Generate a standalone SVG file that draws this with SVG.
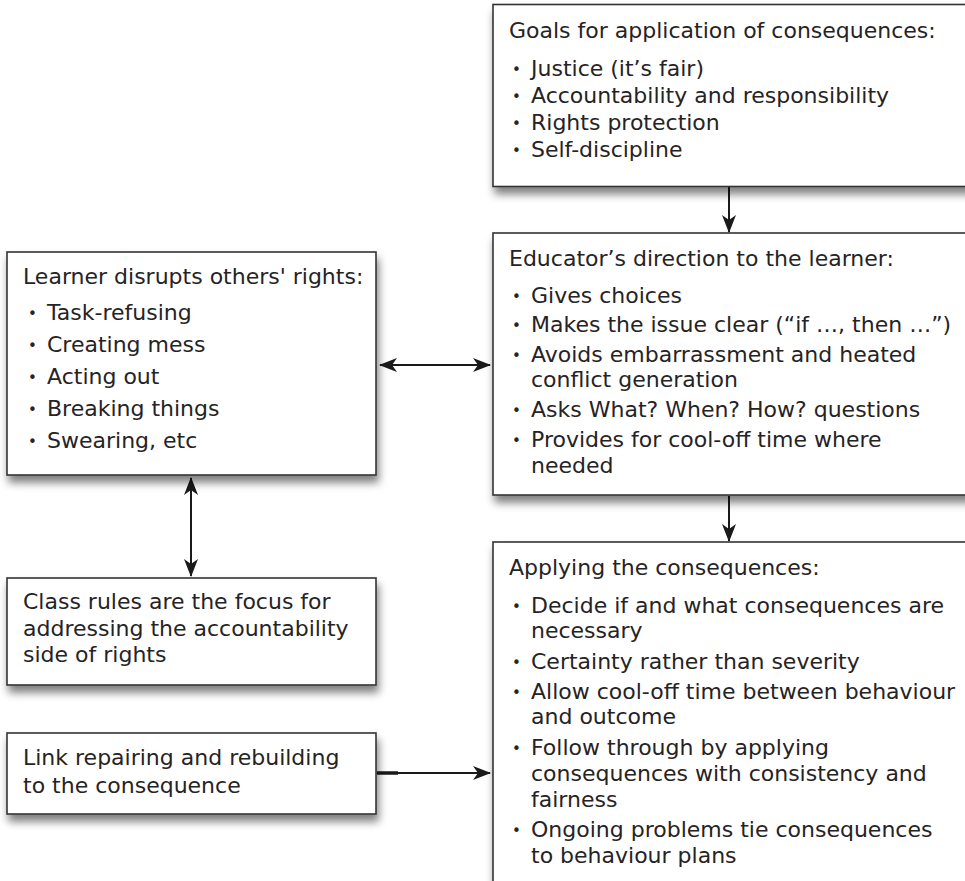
<svg xmlns="http://www.w3.org/2000/svg" width="965" height="881" viewBox="0 0 965 881">
  <defs>
    <filter id="shadow" x="-10%" y="-10%" width="130%" height="140%">
      <feGaussianBlur in="SourceAlpha" stdDeviation="4"/>
      <feOffset dx="2" dy="7" result="blur"/>
      <feComponentTransfer><feFuncA type="linear" slope="0.5"/></feComponentTransfer>
      <feMerge><feMergeNode/><feMergeNode in="SourceGraphic"/></feMerge>
    </filter>
    <marker id="head" viewBox="0 0 18 14" refX="17" refY="7" markerWidth="18" markerHeight="14" markerUnits="userSpaceOnUse" orient="auto-start-reverse">
      <path d="M18,7 L0,0 L5,7 L0,14 Z" fill="#1a1a1a"/>
    </marker>
  </defs>
  <style>
    .box { fill: #ffffff; stroke: #333333; stroke-width: 1.6; }
    .txt { font-family: "DejaVu Sans", "Liberation Sans", sans-serif; font-size: 22px; fill: #262324; }
    .bul { font-size: 15px; }
    .link { fill: none; stroke: #1a1a1a; stroke-width: 2; }
  </style>
  <rect width="965" height="881" fill="#ffffff"/>

  <!-- connectors -->
  <g id="connectors">
    <line class="link" x1="729" y1="187" x2="729" y2="232" marker-end="url(#head)"/>
    <line class="link" x1="729" y1="496" x2="729" y2="541" marker-end="url(#head)"/>
    <line class="link" x1="380" y1="365" x2="490" y2="365" marker-start="url(#head)" marker-end="url(#head)"/>
    <line class="link" x1="191" y1="478" x2="191" y2="576" marker-start="url(#head)" marker-end="url(#head)"/>
    <line class="link" x1="377" y1="773" x2="490" y2="773" marker-end="url(#head)"/>
    <line x1="377" y1="773" x2="398" y2="773" stroke="#1a1a1a" stroke-width="3.5"/>
  </g>

  <!-- goals -->
  <g id="goals">
    <rect class="box" x="493" y="4.5" width="480" height="182" filter="url(#shadow)"/>
    <text class="txt" x="509" y="38">Goals for application of consequences:</text>
    <text class="txt">
      <tspan class="bul" x="512" y="75">•</tspan><tspan x="531" y="76">Justice (it’s fair)</tspan>
      <tspan class="bul" x="512" y="102">•</tspan><tspan x="531" y="103">Accountability and responsibility</tspan>
      <tspan class="bul" x="512" y="129">•</tspan><tspan x="531" y="130">Rights protection</tspan>
      <tspan class="bul" x="512" y="156">•</tspan><tspan x="531" y="157">Self-discipline</tspan>
    </text>
  </g>

  <!-- educator -->
  <g id="educator">
    <rect class="box" x="493" y="233" width="480" height="262" filter="url(#shadow)"/>
    <text class="txt" x="509" y="266">Educator’s direction to the learner:</text>
    <text class="txt">
      <tspan class="bul" x="512" y="302">•</tspan><tspan x="531" y="303">Gives choices</tspan>
      <tspan class="bul" x="512" y="331">•</tspan><tspan x="531" y="332">Makes the issue clear (“if …, then …”)</tspan>
      <tspan class="bul" x="512" y="361">•</tspan><tspan x="531" y="362">Avoids embarrassment and heated</tspan>
      <tspan x="531" y="387">conflict generation</tspan>
      <tspan class="bul" x="512" y="416">•</tspan><tspan x="531" y="417">Asks What? When? How? questions</tspan>
      <tspan class="bul" x="512" y="446">•</tspan><tspan x="531" y="447">Provides for cool-off time where</tspan>
      <tspan x="531" y="473">needed</tspan>
    </text>
  </g>

  <!-- applying -->
  <g id="applying">
    <rect class="box" x="493" y="542" width="480" height="360" filter="url(#shadow)"/>
    <text class="txt" x="509" y="575">Applying the consequences:</text>
    <text class="txt">
      <tspan class="bul" x="512" y="612">•</tspan><tspan x="531" y="613">Decide if and what consequences are</tspan>
      <tspan x="531" y="638">necessary</tspan>
      <tspan class="bul" x="512" y="668">•</tspan><tspan x="531" y="669">Certainty rather than severity</tspan>
      <tspan class="bul" x="512" y="698">•</tspan><tspan x="531" y="699">Allow cool-off time between behaviour</tspan>
      <tspan x="531" y="724">and outcome</tspan>
      <tspan class="bul" x="512" y="754">•</tspan><tspan x="531" y="755">Follow through by applying</tspan>
      <tspan x="531" y="781">consequences with consistency and</tspan>
      <tspan x="531" y="807">fairness</tspan>
      <tspan class="bul" x="512" y="836">•</tspan><tspan x="531" y="837">Ongoing problems tie consequences</tspan>
      <tspan x="531" y="863">to behaviour plans</tspan>
    </text>
  </g>

  <!-- learner -->
  <g id="learner">
    <rect class="box" x="7" y="252" width="369" height="223" filter="url(#shadow)"/>
    <text class="txt" x="23" y="284">Learner disrupts others' rights:</text>
    <text class="txt">
      <tspan class="bul" x="28" y="319">•</tspan><tspan x="47" y="320">Task-refusing</tspan>
      <tspan class="bul" x="28" y="351">•</tspan><tspan x="47" y="352">Creating mess</tspan>
      <tspan class="bul" x="28" y="383">•</tspan><tspan x="47" y="384">Acting out</tspan>
      <tspan class="bul" x="28" y="415">•</tspan><tspan x="47" y="416">Breaking things</tspan>
      <tspan class="bul" x="28" y="447">•</tspan><tspan x="47" y="448">Swearing, etc</tspan>
    </text>
  </g>

  <!-- class rules -->
  <g id="class-rules">
    <rect class="box" x="7" y="578" width="369" height="107" filter="url(#shadow)"/>
    <text class="txt">
      <tspan x="23" y="609">Class rules are the focus for</tspan>
      <tspan x="23" y="636">addressing the accountability</tspan>
      <tspan x="23" y="662">side of rights</tspan>
    </text>
  </g>

  <!-- repair link -->
  <g id="repair">
    <rect class="box" x="7" y="733" width="369" height="81" filter="url(#shadow)"/>
    <text class="txt">
      <tspan x="23" y="765">Link repairing and rebuilding</tspan>
      <tspan x="23" y="793">to the consequence</tspan>
    </text>
  </g>
</svg>
